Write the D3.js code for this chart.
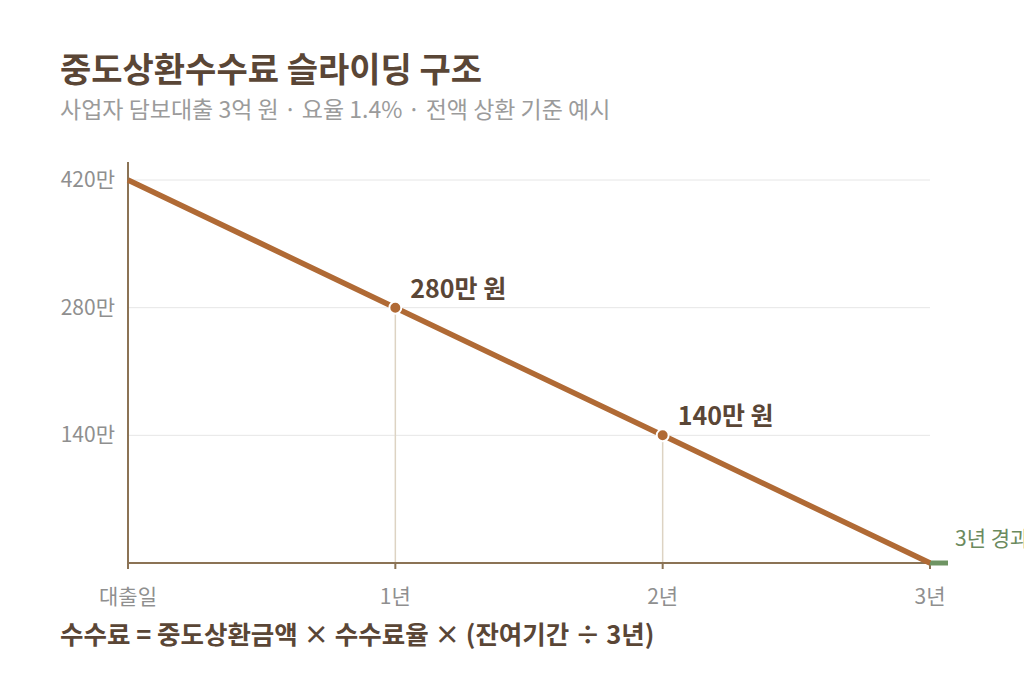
<!DOCTYPE html>
<meta charset="utf-8">
<style>
  body { margin: 0; background: #fff; }
  svg { font-family: "Noto Sans CJK KR", "Noto Sans", sans-serif; }
  .title { font-size: 34px; font-weight: 700; fill: #5a4636; }
  .subtitle { font-size: 23px; fill: #9b9b9b; }
  .tick-label { font-size: 21px; fill: #8f8f8f; }
  .grid { stroke: #e6e6e6; stroke-width: 1px; }
  .drop { stroke: #ddd3c3; stroke-width: 1.5px; }
  .axis-line { stroke: #8b7355; stroke-width: 2px; }
  .fee-line { fill: none; stroke: #b06a35; stroke-width: 5.5px; }
  .dot { fill: #b06a35; stroke: #fff; stroke-width: 2px; }
  .note { font-size: 25px; font-weight: 700; fill: #5a4636; }
  .formula { font-size: 25.5px; font-weight: 700; fill: #5a4636; }
  .end-label { font-size: 21px; fill: #6b8a5e; }
</style>
<svg width="1024" height="683"></svg>
<script src="https://d3js.org/d3.v7.min.js"></script>
<script>
  var svg = d3.select("svg");

  // data
  var periods = ["대출일", "1년", "2년", "3년"];
  var fees = [420, 280, 140, 0];          // 만 원
  var yTicks = [140, 280, 420];
  var notes = ["", "280만 원", "140만 원", ""];

  var x = d3.scalePoint().domain(periods).range([128, 930]);
  var y = d3.scaleLinear().domain([0, 420]).range([563, 180]);

  svg.append("text").attr("class", "title").attr("x", 60).attr("y", 82)
    .text("중도상환수수료 슬라이딩 구조");
  svg.append("text").attr("class", "subtitle").attr("x", 60).attr("y", 118)
    .text("사업자 담보대출 3억 원 · 요율 1.4% · 전액 상환 기준 예시");

  // grid
  svg.selectAll(".grid").data(yTicks).enter().append("line")
    .attr("class", "grid")
    .attr("x1", 128).attr("x2", 930)
    .attr("y1", function(d) { return y(d); })
    .attr("y2", function(d) { return y(d); });

  svg.selectAll(".ylab").data(yTicks).enter().append("text")
    .attr("class", "tick-label")
    .attr("x", 115)
    .attr("y", function(d) { return y(d) + 7; })
    .attr("text-anchor", "end")
    .text(function(d) { return d + "만"; });

  // drop lines
  var mids = periods.slice(1, 3);
  svg.selectAll(".drop").data(mids).enter().append("line")
    .attr("class", "drop")
    .attr("x1", function(d) { return x(d); })
    .attr("x2", function(d) { return x(d); })
    .attr("y1", function(d) { return y(fees[periods.indexOf(d)]); })
    .attr("y2", 563);

  // axes
  svg.append("line").attr("class", "axis-line")
    .attr("x1", 128).attr("x2", 128).attr("y1", 162).attr("y2", 569);
  svg.append("line").attr("class", "axis-line")
    .attr("x1", 127).attr("x2", 930).attr("y1", 563).attr("y2", 563);
  svg.selectAll(".xtick").data(periods.slice(1)).enter().append("line")
    .attr("class", "axis-line")
    .attr("x1", function(d) { return x(d); })
    .attr("x2", function(d) { return x(d); })
    .attr("y1", 563).attr("y2", 569);

  svg.selectAll(".xlab").data(periods).enter().append("text")
    .attr("class", "tick-label")
    .attr("x", function(d) { return x(d); })
    .attr("y", 604)
    .attr("text-anchor", "middle")
    .text(function(d) { return d; });

  // green end marker
  svg.append("line")
    .attr("x1", x("3년")).attr("x2", x("3년") + 18)
    .attr("y1", 563).attr("y2", 563)
    .attr("stroke", "#6e9463").attr("stroke-width", 5);
  svg.append("text").attr("class", "end-label")
    .attr("x", 955).attr("y", 546)
    .text("3년 경과");

  // fee line
  var line = d3.line()
    .x(function(d, i) { return x(periods[i]); })
    .y(function(d) { return y(d); });
  svg.append("path").datum(fees).attr("class", "fee-line").attr("d", line);

  svg.selectAll(".dot").data([1, 2]).enter().append("circle")
    .attr("class", "dot")
    .attr("cx", function(i) { return x(periods[i]); })
    .attr("cy", function(i) { return y(fees[i]); })
    .attr("r", 6);

  svg.selectAll(".note").data([1, 2]).enter().append("text")
    .attr("class", "note")
    .attr("x", function(i) { return x(periods[i]) + 15; })
    .attr("y", function(i) { return y(fees[i]) - 10; })
    .text(function(i) { return notes[i]; });

  svg.append("text").attr("class", "formula").attr("x", 60).attr("y", 644)
    .text("수수료 = 중도상환금액 × 수수료율 × (잔여기간 ÷ 3년)");
</script>
